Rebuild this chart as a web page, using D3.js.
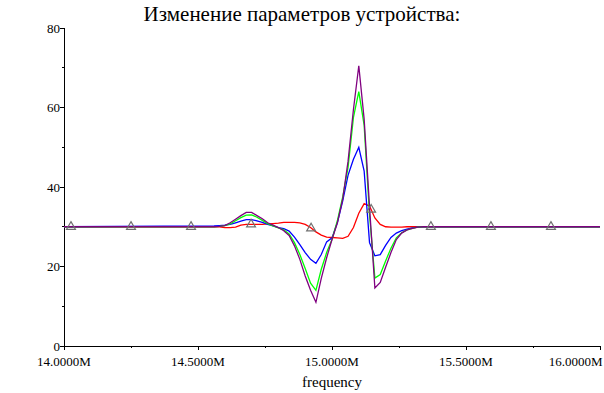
<!DOCTYPE html>
<html>
<head>
<meta charset="utf-8">
<script src="https://cdn.jsdelivr.net/npm/d3@7"></script>
<style>
  body { margin: 0; background: #fff; }
  text { font-family: "Liberation Serif", "Times New Roman", serif; }
</style>
</head>
<body>
<div id="chart"></div>
<script>
// frequency, MHz (flat 30 outside 14.56..15.44)
var freq = [14.00,
  14.56, 14.58, 14.60, 14.62, 14.64, 14.66, 14.68, 14.70, 14.72, 14.74,
  14.76, 14.78, 14.80, 14.82, 14.84, 14.86, 14.88, 14.90, 14.92, 14.94,
  14.96, 14.98, 15.00, 15.02, 15.04, 15.06, 15.08, 15.10, 15.12, 15.14,
  15.16, 15.18, 15.20, 15.22, 15.24, 15.26, 15.28, 15.30, 15.32, 15.34,
  15.36, 15.38, 15.40, 15.42, 15.44,
  16.00];

var redVals = [30,
  30.0, 30.0, 29.8, 29.8, 29.9, 30.4, 30.6, 30.6, 30.6, 30.6,
  30.7, 30.8, 30.9, 31.1, 31.1, 31.1, 31.0, 30.6, 29.8, 28.7,
  27.9, 27.4, 27.3, 27.2, 27.1, 27.6, 29.8, 33.4, 35.8, 35.2,
  32.2, 30.6, 30.0, 29.9, 29.9, 29.9, 30.0, 30.0, 30.0, 30.0,
  30.0, 30.0, 30.0, 30.0, 30.0,
  30];

var blueVals = [30,
  30.2, 30.3, 30.4, 30.6, 31.0, 31.4, 31.8, 31.8, 31.5, 31.1,
  30.6, 30.2, 29.8, 29.5, 28.9, 27.4, 25.5, 23.5, 21.8, 20.8,
  23.0, 26.2, 27.2, 31.0, 36.5, 43.0, 47.0, 50.0, 44.0, 26.0,
  22.7, 23.0, 25.3, 27.3, 28.4, 29.0, 29.4, 29.7, 29.9, 30.0,
  30.0, 30.0, 30.0, 30.0, 30.0,
  30];

var greenVals = [30,
  30.0, 30.1, 30.3, 30.7, 31.5, 32.3, 32.9, 33.0, 32.4, 31.6,
  30.8, 30.2, 29.7, 29.2, 28.2, 26.0, 23.0, 19.5, 15.8, 14.0,
  19.3, 23.5, 26.8, 31.5, 37.5, 45.0, 57.5, 64.0, 55.5, 33.0,
  17.1, 18.0, 21.4, 24.6, 27.2, 28.5, 29.2, 29.6, 29.9, 30.0,
  30.0, 30.0, 30.0, 30.0, 30.0,
  30];

var purpleVals = [30,
  30.0, 30.1, 30.3, 31.0, 31.9, 32.8, 33.6, 33.6, 32.8, 32.0,
  31.0, 30.4, 29.8, 29.0, 27.8, 25.2, 21.8, 17.6, 14.0, 11.0,
  17.0, 22.2, 26.8, 31.0, 37.0, 46.5, 59.5, 70.5, 57.0, 35.0,
  14.6, 16.0, 19.8, 23.5, 26.8, 28.4, 29.2, 29.6, 29.9, 30.0,
  30.0, 30.0, 30.0, 30.0, 30.0,
  30];

// triangle markers on the red trace
var markerFreq = [14.026, 14.250, 14.474, 14.698, 14.922, 15.146, 15.369, 15.593, 15.817];
var markerVals = [30, 30, 30, 30.6, 29.6, 34.3, 30, 30, 30];

var xMajor = [14.0, 14.5, 15.0, 15.5, 16.0];
var xMinor = [14.25, 14.75, 15.25, 15.75];
var yMajor = [0, 20, 40, 60, 80];
var yMinor = [10, 30, 50, 70];

var width = 604, height = 393;
var margin = {top: 28, right: 4, bottom: 47, left: 64};

var svg = d3.select("#chart").append("svg")
  .attr("width", width)
  .attr("height", height);

var x = d3.scaleLinear().domain([14, 16]).range([margin.left, width - margin.right]);
var y = d3.scaleLinear().domain([0, 80]).range([height - margin.bottom, margin.top]);

// title
svg.append("text")
  .attr("x", 302)
  .attr("y", 21)
  .attr("text-anchor", "middle")
  .attr("font-size", "21px")
  .text("Изменение параметров устройства:");

// y axis
var yAxis = svg.append("g").attr("shape-rendering", "crispEdges");
yAxis.append("line")
  .attr("x1", x(14)).attr("x2", x(14))
  .attr("y1", y(80)).attr("y2", y(0))
  .attr("stroke", "#000");
yAxis.selectAll(".ymaj").data(yMajor).enter().append("line")
  .attr("x1", x(14) - 4).attr("x2", x(14))
  .attr("y1", d => y(d)).attr("y2", d => y(d))
  .attr("stroke", "#000");
yAxis.selectAll(".ymin").data(yMinor).enter().append("line")
  .attr("x1", x(14) - 2).attr("x2", x(14))
  .attr("y1", d => y(d)).attr("y2", d => y(d))
  .attr("stroke", "#000");
yAxis.selectAll(".ylab").data(yMajor).enter().append("text")
  .attr("x", x(14) - 4)
  .attr("y", d => y(d))
  .attr("dy", "0.35em")
  .attr("text-anchor", "end")
  .attr("font-size", "13px")
  .text(d => d);

// x axis
var xAxis = svg.append("g").attr("shape-rendering", "crispEdges");
xAxis.append("line")
  .attr("x1", x(14)).attr("x2", x(16))
  .attr("y1", y(0)).attr("y2", y(0))
  .attr("stroke", "#000");
xAxis.selectAll(".xmaj").data(xMajor).enter().append("line")
  .attr("x1", d => x(d)).attr("x2", d => x(d))
  .attr("y1", y(0)).attr("y2", y(0) + 4)
  .attr("stroke", "#000");
xAxis.selectAll(".xmin").data(xMinor).enter().append("line")
  .attr("x1", d => x(d)).attr("x2", d => x(d))
  .attr("y1", y(0)).attr("y2", y(0) + 2)
  .attr("stroke", "#000");
var fmt = d3.format(".4f");
xAxis.selectAll(".xlab").data(xMajor).enter().append("text")
  .attr("x", d => x(d))
  .attr("y", 366)
  .attr("text-anchor", "middle")
  .attr("font-size", "13px")
  .text(d => fmt(d) + "M")
  .each(function() {
    // keep the last label inside the window
    var bb = this.getBBox();
    if (bb.x + bb.width > width - 1) {
      d3.select(this).attr("x", +d3.select(this).attr("x") - (bb.x + bb.width - width + 1));
    }
  });

svg.append("text")
  .attr("x", (x(14) + x(16)) / 2)
  .attr("y", 387)
  .attr("text-anchor", "middle")
  .attr("font-size", "15px")
  .text("frequency");

// traces
var series = [
  {vals: redVals, color: "#ff0000"},
  {vals: blueVals, color: "#0000ff"},
  {vals: greenVals, color: "#00ff00"},
  {vals: purpleVals, color: "#800080"}
];

var line = d3.line()
  .x((d, i) => x(freq[i]))
  .y(d => y(d));

svg.selectAll(".trace").data(series).enter().append("path")
  .attr("class", "trace")
  .attr("fill", "none")
  .attr("stroke", d => d.color)
  .attr("stroke-width", 1.3)
  .attr("d", d => line(d.vals));

// markers
var tri = d3.symbol().type(d3.symbolTriangle).size(34);
svg.selectAll(".marker").data(markerFreq).enter().append("path")
  .attr("class", "marker")
  .attr("transform", (d, i) => `translate(${x(d)},${y(markerVals[i])})`)
  .attr("d", tri)
  .attr("fill", "none")
  .attr("stroke", "#707070")
  .attr("stroke-width", 1.2);
</script>
</body>
</html>
